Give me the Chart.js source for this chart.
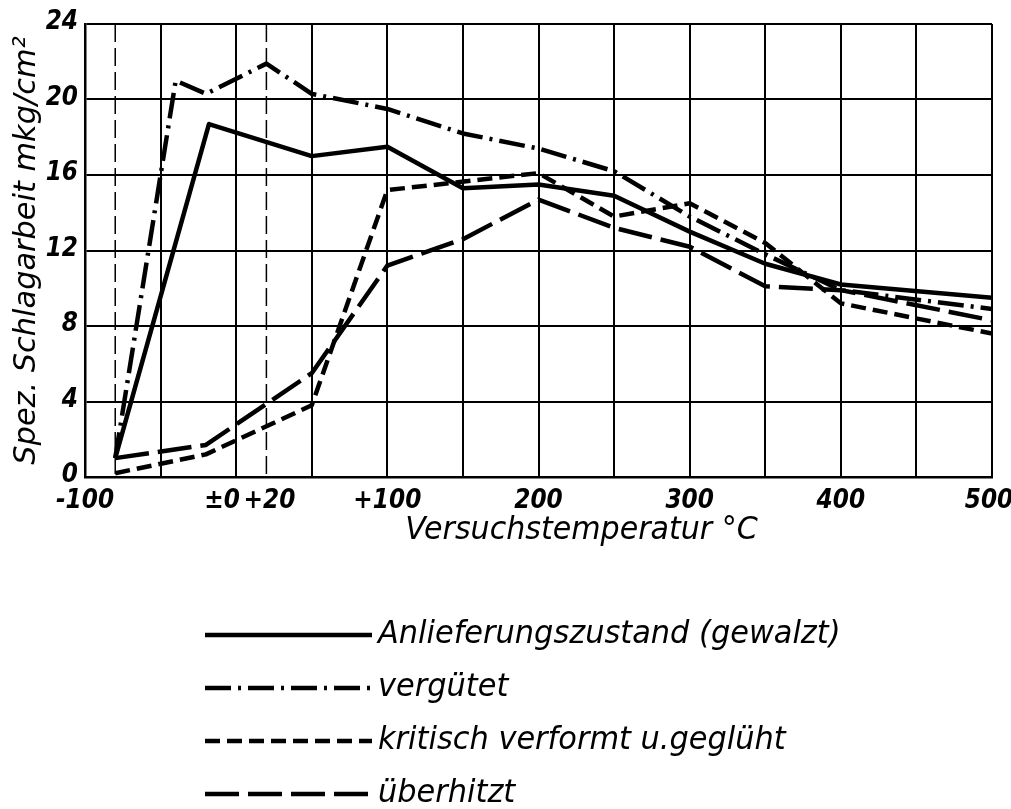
<!DOCTYPE html>
<html>
<head>
<meta charset="utf-8">
<script src="https://cdn.jsdelivr.net/npm/chart.js@4.4.0/dist/chart.umd.min.js"></script>
<style>
    html, body { margin: 0; padding: 0; background: #fff; }
</style>
</head>
<body>
<canvas id="graficoSchlag" width="1011" height="809"></canvas>
<script>
const anlieferungX = [-80, -18, 50, 100, 150, 200, 250, 300, 350, 400, 500];
const anlieferungY = [1.0, 18.7, 17.0, 17.5, 15.3, 15.5, 14.9, 13.0, 11.3, 10.2, 9.5];

const verguetetX = [-80, -40, -20, 20, 50, 100, 150, 200, 250, 300, 350, 400, 500];
const verguetetY = [1.0, 21.0, 20.3, 21.9, 20.3, 19.5, 18.2, 17.4, 16.2, 13.8, 11.8, 9.9, 8.9];

const kritischX = [-80, -20, 50, 100, 200, 250, 300, 350, 400, 500];
const kritischY = [0.2, 1.2, 3.8, 15.2, 16.1, 13.8, 14.5, 12.4, 9.2, 7.6];

const ueberhitztX = [-80, -20, 50, 100, 150, 200, 250, 300, 350, 400, 500];
const ueberhitztY = [1.0, 1.7, 5.5, 11.2, 12.6, 14.7, 13.2, 12.2, 10.1, 9.9, 8.3];

const serienNamen = ['Anlieferungszustand (gewalzt)', 'vergütet', 'kritisch verformt u.geglüht', 'überhitzt'];

// Achsen
const xGitter = [-100, -50, 0, 50, 100, 150, 200, 250, 300, 350, 400, 450, 500];
const xHilfslinien = [-80, 20];
const xTickWerte = [-100, 0, 20, 100, 200, 300, 400, 500];
const xTickLabels = ['-100', '±0', '+20', '+100', '200', '300', '400', '500'];
const yTickWerte = [0, 4, 8, 12, 16, 20, 24];

const xTitel = 'Versuchstemperatur °C';
const yTitel = 'Spez. Schlagarbeit mkg/cm²';

const strichMuster = [[], [26, 7, 3, 7], [15, 7], [34, 9]];

function punkte(xs, ys) {
    return xs.map((x, i) => ({ x: x, y: ys[i] }));
}

function schreibe(ctx, text, x, y, font, align, sx) {
    ctx.save();
    ctx.font = font;
    ctx.fillStyle = '#000';
    ctx.textAlign = align;
    ctx.textBaseline = 'middle';
    ctx.translate(x, y);
    ctx.scale(sx, 1);
    ctx.fillText(text, 0, 0);
    ctx.restore();
}

const beschriftung = {
    id: 'beschriftung',
    beforeDatasetsDraw(chart) {
        const ctx = chart.ctx;
        const xs = chart.scales.x;
        const area = chart.chartArea;
        ctx.save();
        ctx.strokeStyle = '#000';
        ctx.lineWidth = 1.5;
        ctx.setLineDash([18, 6]);
        xHilfslinien.forEach(v => {
            const px = xs.getPixelForValue(v);
            ctx.beginPath();
            ctx.moveTo(px, area.top);
            ctx.lineTo(px, area.bottom);
            ctx.stroke();
        });
        ctx.restore();
    },
    afterDraw(chart) {
        const ctx = chart.ctx;
        const xs = chart.scales.x;
        const ys = chart.scales.y;
        const area = chart.chartArea;
        const tickFont = 'italic bold 27px "DejaVu Sans"';

        xTickWerte.forEach((v, i) => {
            let px = xs.getPixelForValue(v);
            if (v === 0) px -= 14;
            if (v === 20) px += 3;
            if (v === 500) px -= 3;
            schreibe(ctx, xTickLabels[i], px, area.bottom + 24, tickFont, 'center', 0.86);
        });
        yTickWerte.forEach(v => {
            schreibe(ctx, String(v), area.left - 7, ys.getPixelForValue(v) - 2, tickFont, 'right', 0.86);
        });

        schreibe(ctx, xTitel, (area.left + area.right) / 2 + 43, area.bottom + 54, 'italic 32px "DejaVu Sans"', 'center', 0.94);

        ctx.save();
        ctx.translate(27, (area.top + area.bottom) / 2);
        ctx.rotate(-Math.PI / 2);
        schreibe(ctx, yTitel, 0, 0, 'italic 31px "DejaVu Sans"', 'center', 0.98);
        ctx.restore();

        // Legende
        const legX0 = 205, legX1 = 372, legY0 = 635, legDy = 53;
        chart.data.datasets.forEach((ds, i) => {
            const y = legY0 + i * legDy;
            ctx.save();
            ctx.strokeStyle = '#000';
            ctx.lineWidth = 4.5;
            ctx.setLineDash(strichMuster[i]);
            ctx.beginPath();
            ctx.moveTo(legX0, y);
            ctx.lineTo(legX1, y);
            ctx.stroke();
            ctx.restore();
            schreibe(ctx, serienNamen[i], legX1 + 6, y, 'italic 32px "DejaVu Sans"', 'left', 0.95);
        });
    }
};

const reihen = [
    punkte(anlieferungX, anlieferungY),
    punkte(verguetetX, verguetetY),
    punkte(kritischX, kritischY),
    punkte(ueberhitztX, ueberhitztY)
];

new Chart(document.getElementById('graficoSchlag').getContext('2d'), {
    type: 'line',
    data: {
        datasets: reihen.map((daten, i) => ({
            label: serienNamen[i],
            data: daten,
            borderColor: '#000',
            borderWidth: 4.5,
            borderDash: strichMuster[i],
            borderCapStyle: 'butt',
            borderJoinStyle: 'round',
            pointRadius: 0,
            tension: 0,
            fill: false
        }))
    },
    options: {
        responsive: false,
        animation: false,
        layout: {
            padding: { left: 85, right: 19, top: 24, bottom: 332 }
        },
        plugins: {
            legend: { display: false },
            tooltip: { enabled: false }
        },
        scales: {
            x: {
                type: 'linear',
                min: -100,
                max: 500,
                afterBuildTicks: (scale) => {
                    scale.ticks = xGitter.map(v => ({ value: v }));
                },
                ticks: { display: false },
                grid: { color: '#000', lineWidth: 2, drawTicks: false },
                border: { color: '#000', width: 2.5 }
            },
            y: {
                min: 0,
                max: 24,
                ticks: { display: false, stepSize: 4 },
                grid: { color: '#000', lineWidth: 2, drawTicks: false },
                border: { color: '#000', width: 2.5 }
            }
        }
    },
    plugins: [beschriftung]
});
</script>
</body>
</html>
